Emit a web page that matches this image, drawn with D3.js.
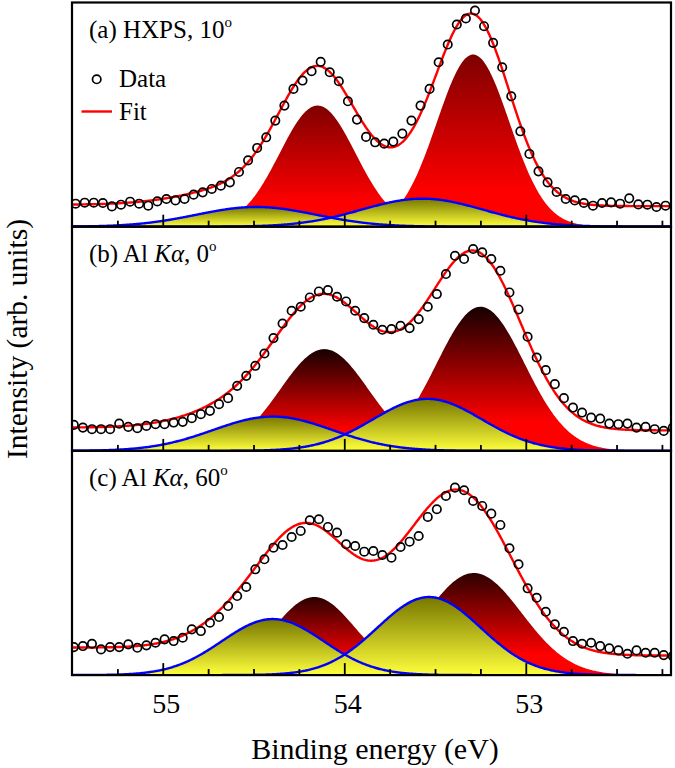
<!DOCTYPE html>
<html>
<head>
<meta charset="utf-8">
<script src="https://cdn.jsdelivr.net/npm/d3@7"></script>
<style>
  body { margin: 0; background: #fff; }
  svg { display: block; font-family: "Liberation Serif", "Times New Roman", serif; }
</style>
</head>
<body>
<svg id="chart" width="675" height="768"></svg>
<script>
// binding energy grid of the measured points (first point, step 0.05 eV)
const energyStart = [55.48, 55.49, 55.49];
const energyStep = 0.05;

// measured intensities (arb. units), one list per panel
const dataA = [23, 24, 24, 23.7, 20.3, 22, 25, 23, 21, 25.3, 27.7, 26.3, 27.7, 32, 34.3, 37.7, 41, 44.3,
  54.7, 66.3, 78.7, 89.3, 106, 121, 137.7, 146, 155.3, 164.7, 154.3, 145.3, 125.3, 107, 89.7, 84.3, 83, 85,
  93, 106, 121, 137.7, 164.3, 182, 202, 208, 216, 200.3, 183.7, 159.3, 130.3, 95.3, 72.7, 55.3, 44.3, 34.7,
  27.7, 26.3, 23.7, 21, 23.7, 24.3, 23, 28.3, 22.3, 22, 19.7, 21];
const dataB = [26, 23.3, 21.7, 21.7, 21.7, 27.3, 24, 22.7, 25, 26.7, 26.7, 28.3, 29, 32.7, 36.7, 40, 46.7, 52.7,
  65, 75, 85, 97.3, 112.7, 127.3, 140, 144, 153.3, 159.3, 160.7, 154, 149.3, 140,
  132.7, 126, 121, 121.7, 125, 122.7, 131.7, 144, 156.7, 176.7, 195, 191.7, 201.7, 198.3, 191.7, 180, 158.3,
  141.3, 114, 93.3, 80.7, 66.7, 52.7, 43.3, 38.3, 33.3, 32.3, 27.3, 26.7, 27.3, 23.3, 24, 21.7, 20, 23.3];
const dataC = [28, 29, 31.3, 25.7, 28, 28, 30.7, 27.3, 29.7, 32.3, 35.7, 34, 37.3, 45.7, 44, 52.3, 58, 69,
  79, 88, 105.7, 115.7, 127.3, 130, 138, 144, 154.7, 155.7, 148, 142.3, 130.7, 129,
  123.3, 124, 120, 117.3, 128, 133.3, 139, 158, 165.7, 179, 187.3, 184.7, 174, 169, 161.3, 150, 126.7, 110.7,
  86.7, 77.3, 63.3, 50.7, 43.3, 34, 31.3, 32.3, 29, 26.7, 24.7, 21.3, 24.7, 22.3, 22.3, 20, 19];

// fitted components: centre (eV), height, sigma (eV)
const redCentres = [[54.147, 53.29], [54.11, 53.249], [54.165, 53.286]];
const redHeights = [[121, 172], [101.7, 144], [78, 102]];
const redSigmas = [[0.209, 0.2], [0.242, 0.242], [0.225, 0.264]];
const blueCentres = [[54.485, 53.57], [54.394, 53.542], [54.394, 53.533]];
const blueHeights = [[19.7, 28], [34.3, 52], [56, 78]];
const blueSigmas = [[0.33, 0.335], [0.33, 0.30], [0.28, 0.285]];
// Shirley background: level on the high and low binding energy side
const bgHigh = [22, 23.3, 27.5];
const bgLow = [20.5, 20.5, 19.5];

const panelLabels = [
  [{t: '(a) HXPS, 10'}, {t: 'o', sup: true}],
  [{t: '(b) Al '}, {t: 'K\u03b1', it: true}, {t: ', 0'}, {t: 'o', sup: true}],
  [{t: '(c) Al '}, {t: 'K\u03b1', it: true}, {t: ', 60'}, {t: 'o', sup: true}]
];
const majorTicks = [55, 54, 53];
const minorTicks = [55.25, 54.75, 54.5, 54.25, 53.75, 53.5, 53.25, 52.75, 52.5, 52.25];

const redTops = ['#7e0000', '#160000', '#2c0000'];

const svg = d3.select('#chart');
const left = 72, right = 671, top0 = 2.5, panelH = 224.2;

const x = d3.scaleLinear().domain([55.5, 52.2]).range([left, right]);
const grid = d3.range(55.5, 52.2 - 1e-9, -0.005);

function gauss(e, c, h, s) {
  return h * Math.exp(-((e - c) * (e - c)) / (2 * s * s));
}

const defs = svg.append('defs');
const allData = [dataA, dataB, dataC];

allData.forEach(function (data, p) {
  const top = top0 + p * panelH;
  const bottom = top + panelH;
  const y = d3.scaleLinear().domain([0, 224]).range([bottom, top]);

  const rg = defs.append('linearGradient').attr('id', 'red' + p)
    .attr('x1', 0).attr('y1', 0).attr('x2', 0).attr('y2', 1);
  rg.append('stop').attr('offset', 0).attr('stop-color', redTops[p]);
  rg.append('stop').attr('offset', 0.8).attr('stop-color', '#ff0000');
  rg.append('stop').attr('offset', 1).attr('stop-color', '#ff0000');
  const yg = defs.append('linearGradient').attr('id', 'yel' + p)
    .attr('x1', 0).attr('y1', 0).attr('x2', 0).attr('y2', 1);
  yg.append('stop').attr('offset', 0).attr('stop-color', '#777700');
  yg.append('stop').attr('offset', 1).attr('stop-color', '#ffff3c');

  defs.append('clipPath').attr('id', 'clip' + p)
    .append('rect').attr('x', left).attr('y', top).attr('width', right - left).attr('height', panelH);

  const g = svg.append('g').attr('clip-path', 'url(#clip' + p + ')');

  // components on the grid
  const reds = redCentres[p].map((c, k) => grid.map(e => gauss(e, c, redHeights[p][k], redSigmas[p][k])));
  const blues = blueCentres[p].map((c, k) => grid.map(e => gauss(e, c, blueHeights[p][k], blueSigmas[p][k])));
  const sum = grid.map((e, i) => reds[0][i] + reds[1][i] + blues[0][i] + blues[1][i]);
  // Shirley: cumulative area from the low binding energy side
  const cum = new Array(grid.length);
  let acc = 0;
  for (let i = grid.length - 1; i >= 0; i--) { acc += sum[i]; cum[i] = acc; }
  const fit = grid.map((e, i) => bgLow[p] + (bgHigh[p] - bgLow[p]) * cum[i] / acc + sum[i]);

  const area = d3.area().x((d, i) => x(grid[i])).y0(y(0)).y1(d => y(d));
  const line = d3.line().x((d, i) => x(grid[i])).y(d => y(d));

  reds.forEach(function (r) {
    g.append('path').attr('d', area(r)).attr('fill', 'url(#red' + p + ')');
  });
  blues.forEach(function (b) {
    g.append('path').attr('d', area(b)).attr('fill', 'url(#yel' + p + ')');
  });
  blues.forEach(function (b) {
    g.append('path').attr('d', line(b)).attr('fill', 'none')
      .attr('stroke', '#0000ff').attr('stroke-width', 2.4);
  });
  g.append('path').attr('d', line(fit)).attr('fill', 'none')
    .attr('stroke', '#ff0000').attr('stroke-width', 2.4);

  g.selectAll('circle.pt').data(data).enter().append('circle')
    .attr('class', 'pt')
    .attr('cx', (d, i) => x(energyStart[p] - i * energyStep))
    .attr('cy', d => y(d))
    .attr('r', 4.2)
    .attr('fill', 'none')
    .attr('stroke', '#000')
    .attr('stroke-width', 1.7);

  // inner ticks on the bottom edge
  svg.append('g').attr('transform', `translate(0, ${bottom})`)
    .call(d3.axisBottom(x).tickValues(majorTicks).tickSize(-12).tickFormat(''))
    .call(a => a.select('.domain').remove())
    .selectAll('line').attr('stroke-width', 1.8);
  svg.append('g').attr('transform', `translate(0, ${bottom})`)
    .call(d3.axisBottom(x).tickValues(minorTicks).tickSize(-6).tickFormat(''))
    .call(a => a.select('.domain').remove())
    .selectAll('line').attr('stroke-width', 1.8);

  svg.append('rect').attr('x', left).attr('y', top).attr('width', right - left).attr('height', panelH)
    .attr('fill', 'none').attr('stroke', '#000').attr('stroke-width', 2.2);

  const lab = svg.append('text').attr('x', 89).attr('y', top + 35).attr('font-size', 25);
  panelLabels[p].forEach(function (s) {
    const ts = lab.append('tspan').text(s.t);
    if (s.it) ts.attr('font-style', 'italic');
    if (s.sup) ts.attr('font-size', 15).attr('dy', -11);
  });

  if (p === 2) {
    svg.append('g').attr('transform', `translate(3, ${bottom})`)
      .call(d3.axisBottom(x).tickValues(majorTicks).tickSize(0).tickPadding(18).tickFormat(d3.format('d')))
      .call(a => a.select('.domain').remove())
      .selectAll('text')
      .attr('font-family', '"Liberation Serif", serif')
      .attr('font-size', 28)
      .attr('fill', '#000');
  }
});

// legend
svg.append('circle').attr('cx', 96.7).attr('cy', 79.3).attr('r', 4.2)
  .attr('fill', 'none').attr('stroke', '#000').attr('stroke-width', 1.7);
svg.append('text').attr('x', 119).attr('y', 87).attr('font-size', 25).text('Data');
svg.append('line').attr('x1', 81.5).attr('x2', 112).attr('y1', 111.5).attr('y2', 111.5)
  .attr('stroke', '#ff0000').attr('stroke-width', 2.4);
svg.append('text').attr('x', 119).attr('y', 120).attr('font-size', 25).text('Fit');

// axis titles
svg.append('text')
  .attr('x', 375)
  .attr('y', 759)
  .attr('text-anchor', 'middle')
  .attr('font-size', 30)
  .text('Binding energy (eV)');

svg.append('text')
  .attr('transform', 'translate(26.5, 339) rotate(-90)')
  .attr('text-anchor', 'middle')
  .attr('font-size', 29.5)
  .text('Intensity (arb. units)');
</script>
</body>
</html>
